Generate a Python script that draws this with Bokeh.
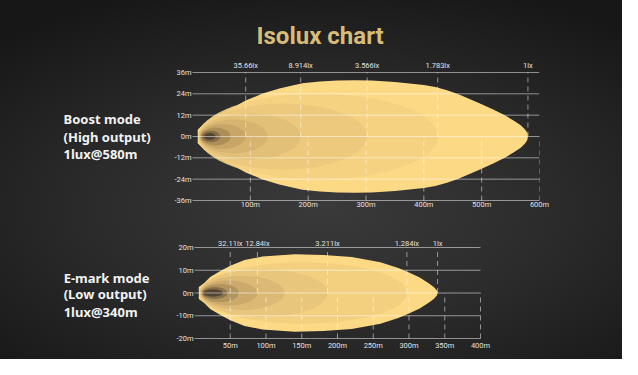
from bokeh.plotting import figure
from bokeh.models import FixedTicker, Label, LinearAxis, Title
from bokeh.layouts import column
from bokeh.embed import file_html
from bokeh.resources import INLINE
from bokeh.core.properties import value

BG_CSS = "radial-gradient(ellipse 75% 65% at 52% 58%, #3a3a3a 0%, #2b2b2b 50%, #171717 100%)"
TICK_COLOR = "#e2e2e2"
GOLD = "#D6BC78"
FONT = "Roboto"

# ---------------- Boost mode (top) data ----------------
top_x_ticks = [100, 200, 300, 400, 500, 600]
top_x_labels = ["100m", "200m", "300m", "400m", "500m", "600m"]
top_y_ticks = [-36, -24, -12, 0, 12, 24, 36]
top_y_labels = ["-36m", "-24m", "-12m", "0m", "12m", "24m", "36m"]
top_lux_labels = ["35.66lx", "8.914lx", "3.566lx", "1.783lx", "1lx"]
top_lux_dist = [92, 187, 302, 424, 580]
# outer (1 lx) isolux outline, upper half (distance m, lateral m)
top_outline_x = [9, 20, 31, 48, 71, 92, 120, 150, 190, 220, 250, 280, 310, 350, 400, 420, 440,
                 460, 480, 500, 520, 540, 555, 567, 575, 579, 580]
top_outline_y = [3.8, 7.5, 10, 12.8, 16.5, 20.2, 24, 27, 30, 31, 31.5, 31.7, 31.5, 30.7, 29,
                 27.8, 26, 23.8, 21, 18.2, 15.2, 12, 9, 6.5, 4, 2, 0]
# inner isolux contours: start, reach, half width
top_in_start = [10, 10, 11, 12, 13, 14, 16, 20]
top_in_reach = [424, 302, 187, 130, 92, 66, 48, 40]
top_in_half = [24, 18.5, 13, 9.5, 7, 5, 3.2, 2]
top_in_colors = ["#F3D081", "#EBC87C", "#E2BF77", "#D6B370", "#C6A466", "#AA8C58", "#7E6845", "#4E4030"]

# ---------------- E-mark mode (bottom) data ----------------
bot_x_ticks = [50, 100, 150, 200, 250, 300, 350, 400]
bot_x_labels = ["50m", "100m", "150m", "200m", "250m", "300m", "350m", "400m"]
bot_y_ticks = [-20, -10, 0, 10, 20]
bot_y_labels = ["-20m", "-10m", "0m", "10m", "20m"]
bot_lux_labels = ["32.11lx", "12.84lx", "3.211lx", "1.284lx", "1lx"]
bot_lux_dist = [50, 88, 186, 297, 340]
bot_outline_x = [6, 14, 22, 35, 50, 70, 95, 140, 180, 220, 260, 285, 300, 315, 328, 335, 339, 340]
bot_outline_y = [2.6, 4.5, 7, 9.5, 12, 14.5, 16, 17, 16.7, 15.8, 13.5, 11, 9, 6.8, 4.2, 2.5, 1.1, 0]
bot_in_start = [7, 7, 8, 9, 10, 11, 12]
bot_in_reach = [297, 186, 126, 88, 62, 46, 40]
bot_in_half = [13.5, 10.5, 7.5, 5.5, 4, 2.6, 1.6]
bot_in_colors = ["#F1CE80", "#E7C57B", "#DAB874", "#CAA96B", "#AF925D", "#846D4A", "#4E4030"]


def style_axis(ax, ticks, labels, standoff):
    ax.ticker = FixedTicker(ticks=ticks)
    ax.major_label_overrides = {t: l for t, l in zip(ticks, labels)}
    ax.axis_line_color = None
    ax.major_tick_line_color = None
    ax.minor_tick_line_color = None
    ax.major_tick_out = 0
    ax.major_tick_in = 0
    ax.major_label_standoff = standoff
    ax.major_label_text_color = TICK_COLOR
    ax.major_label_text_font = FONT
    ax.major_label_text_font_size = "7.5px"


def make_panel(height, min_top, min_bottom, x_range, x_end, y_lim, y_pad,
               top_standoff, bottom_standoff,
               x_ticks, x_labels, y_ticks, y_labels, lux_labels, lux_dist,
               out_x, out_y, in_start, in_reach, in_half, in_colors):
    p = figure(width=622, height=height, x_range=x_range, y_range=(-y_lim - y_pad, y_lim + y_pad),
               output_backend="svg", toolbar_location=None, y_axis_location=None,
               min_border_left=0, min_border_right=83,
               min_border_top=min_top, min_border_bottom=min_bottom,
               background_fill_color=None, border_fill_color=None, outline_line_color=None)
    p.grid.visible = False

    # beam outline (mirrored)
    px = list(out_x) + list(reversed(out_x))
    py = list(out_y) + [-v for v in reversed(out_y)]
    p.patch(px, py, fill_color="#FCD985", line_color=None)
    cx = [(s + r) / 2 for s, r in zip(in_start, in_reach)]
    w = [r - s for s, r in zip(in_start, in_reach)]
    h = [2 * v for v in in_half]
    p.ellipse(x=cx, y=[0] * len(cx), width=w, height=h, fill_color=in_colors,
              line_color=None, fill_alpha=0.9)

    # horizontal lines
    p.segment(x0=[0] * len(y_ticks), y0=y_ticks, x1=[x_end] * len(y_ticks), y1=y_ticks,
              line_color="white", line_alpha=0.5, line_width=1)
    # dashed guides
    p.segment(x0=lux_dist, y0=[0] * len(lux_dist), x1=lux_dist, y1=[y_lim] * len(lux_dist),
              line_color="white", line_alpha=0.5, line_dash="5 4", line_width=1)
    p.segment(x0=x_ticks, y0=[-y_lim] * len(x_ticks), x1=x_ticks, y1=[0] * len(x_ticks),
              line_color="white", line_alpha=0.5, line_dash="5 4", line_width=1)

    # y tick labels next to the line starts
    p.text(x=[0] * len(y_ticks), y=y_ticks, text=y_labels, x_offset=-1,
           text_align="right", text_baseline="middle", text_color=TICK_COLOR,
           text_font=value(FONT), text_font_size="7.5px")

    below_axis = p.below[0]
    top_axis = LinearAxis()
    p.add_layout(top_axis, "above")
    style_axis(below_axis, x_ticks, x_labels, bottom_standoff)
    style_axis(top_axis, lux_dist, lux_labels, top_standoff)
    return p


# top: 0 m at x=192 px, 600 m at x=539 px; 36 m at y=72, -36 m at y=200
top = make_panel(228, 67, 23, (-332, 600), 600, 36, 2.81, -2, -6,
                 top_x_ticks, top_x_labels, top_y_ticks, top_y_labels,
                 top_lux_labels, top_lux_dist,
                 top_outline_x, top_outline_y, top_in_start, top_in_reach, top_in_half, top_in_colors)

# bottom: 0 m at x=194 px, 400 m at x=480 px; 20 m at y=247, -20 m at y=338
bot = make_panel(131, 14, 16, (-271.3, 482.5), 400, 20, 2.2, -5, -3,
                 bot_x_ticks, bot_x_labels, bot_y_ticks, bot_y_labels,
                 bot_lux_labels, bot_lux_dist,
                 bot_outline_x, bot_outline_y, bot_in_start, bot_in_reach, bot_in_half, bot_in_colors)

top.add_layout(Title(text="Isolux chart", align="left", offset=256, standoff=16,
                     text_color=GOLD, text_font=FONT, text_font_size="24px",
                     text_font_style="bold"), "above")

for txt, yy in zip(["Boost mode", "(High output)", "1lux@580m"], [9.6, 0.0, -9.7]):
    top.add_layout(Label(x=-223, y=yy, text=txt, text_align="left", text_baseline="middle",
                         text_color="#f2f2f2", text_font="Noto Sans", text_font_size="13px",
                         text_font_style="bold"))

for txt, yy in zip(["E-mark mode", "(Low output)", "1lux@340m"], [6.4, -0.6, -8.2]):
    bot.add_layout(Label(x=-183, y=yy, text=txt, text_align="left", text_baseline="middle",
                         text_color="#f2f2f2", text_font="Noto Sans", text_font_size="13px",
                         text_font_style="bold"))

layout = column(top, bot, spacing=0, styles={"background": BG_CSS})
open("out.html", "w").write(file_html(layout, INLINE))
